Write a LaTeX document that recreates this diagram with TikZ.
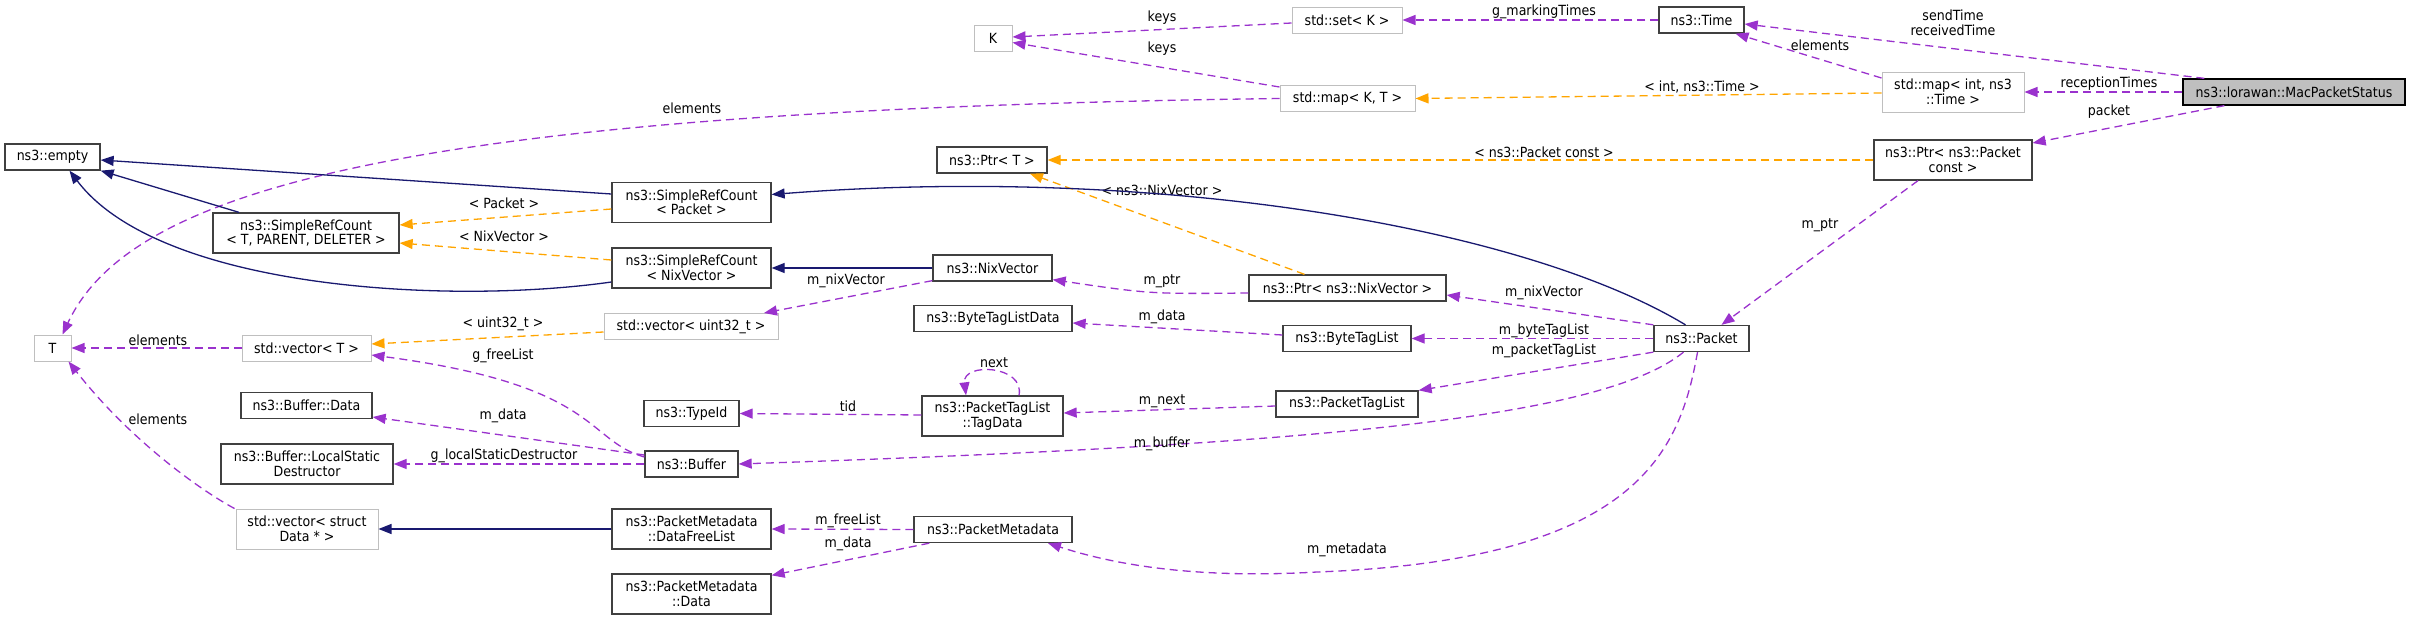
\documentclass[tikz,border=0pt]{standalone}
\usepackage{fontspec}
\setmainfont{DejaVu Sans}[FakeStretch=0.9]
\usetikzlibrary{arrows.meta}
\definecolor{edgepurple}{HTML}{9A32CD}
\definecolor{edgeorange}{HTML}{FFA500}
\definecolor{edgeblue}{HTML}{191970}
\definecolor{boxgrey}{HTML}{BFBFBF}
\definecolor{boxdark}{HTML}{404040}

\begin{document}
\begin{tikzpicture}[x=1pt,y=-1pt,line width=1.3pt,
    every node/.style={font=\fontsize{14}{14.5}\selectfont,inner sep=0pt,align=center},
    class node/.style 2 args={draw=boxdark,fill=white,minimum width=#1,minimum height=#2},
    ext node/.style 2 args={draw=boxgrey,line width=1pt,fill=white,minimum width=#1,minimum height=#2},
    self node/.style 2 args={draw=black,fill=boxgrey,minimum width=#1,minimum height=#2},
    member/.style={color=edgepurple,dash pattern=on 8pt off 5pt,-{Triangle[length=13pt,width=10pt]}},
    tmpl/.style={color=edgeorange,dash pattern=on 8pt off 5pt,-{Triangle[length=13pt,width=10pt]}},
    inherit/.style={color=edgeblue,-{Triangle[length=13pt,width=10pt]}},
    lbl/.style={text=black}]

\useasboundingbox (0,0) rectangle (2420,621);

\node[self node={222pt}{26pt}] (mps) at (2294,92) {ns3::lorawan::MacPacketStatus};
\node[class node={85pt}{26pt}] (time) at (1701.5,20) {ns3::Time};
\node[ext node={142pt}{40pt}] (mapit) at (1953,92) {std::map< int, ns3\\::Time >};
\node[class node={158pt}{40pt}] (ptrp) at (1953,160) {ns3::Ptr< ns3::Packet\\const >};
\node[ext node={110pt}{26pt}] (set) at (1347,20) {std::set< K >};
\node[ext node={135pt}{26pt}] (mapkt) at (1347.5,98.5) {std::map< K, T >};
\node[ext node={38pt}{26pt}] (k) at (993,38.5) {K};
\node[class node={110pt}{26pt}] (ptrt) at (992,160) {ns3::Ptr< T >};
\node[class node={95pt}{26pt}] (packet) at (1701.5,338.5) {ns3::Packet};
\node[class node={197pt}{26pt}] (ptrnix) at (1347.5,288) {ns3::Ptr< ns3::NixVector >};
\node[class node={119pt}{26pt}] (nix) at (992.5,268) {ns3::NixVector};
\node[class node={158pt}{26pt}] (btld) at (993,318.5) {ns3::ByteTagListData};
\node[class node={128pt}{26pt}] (btl) at (1347,338.5) {ns3::ByteTagList};
\node[class node={142pt}{26pt}] (ptl) at (1347,404) {ns3::PacketTagList};
\node[class node={141pt}{40pt}] (tagdata) at (992.5,416) {ns3::PacketTagList\\::TagData};
\node[class node={158pt}{26pt}] (pm) at (993,529.5) {ns3::PacketMetadata};
\node[class node={159pt}{40pt}] (srcp) at (691.5,202.5) {ns3::SimpleRefCount\\< Packet >};
\node[class node={159pt}{40pt}] (srcn) at (691.5,268) {ns3::SimpleRefCount\\< NixVector >};
\node[ext node={174pt}{26pt}] (vecu) at (691,326.5) {std::vector< uint32\_t >};
\node[class node={95pt}{26pt}] (typeid) at (691.5,413.5) {ns3::TypeId};
\node[class node={93pt}{26pt}] (buffer) at (691.5,464) {ns3::Buffer};
\node[class node={159pt}{40pt}] (dfl) at (691.5,529) {ns3::PacketMetadata\\::DataFreeList};
\node[class node={159pt}{40pt}] (pmdata) at (691.5,594) {ns3::PacketMetadata\\::Data};
\node[class node={95pt}{26pt}] (empty) at (52.5,157) {ns3::empty};
\node[class node={186pt}{40pt}] (srct) at (306,233) {ns3::SimpleRefCount\\< T, PARENT, DELETER >};
\node[ext node={129pt}{26pt}] (vect) at (306.5,348) {std::vector< T >};
\node[class node={131pt}{26pt}] (bufdata) at (306.5,405.5) {ns3::Buffer::Data};
\node[class node={172pt}{40pt}] (lsd) at (307,464) {ns3::Buffer::LocalStatic\\Destructor};
\node[ext node={142pt}{40pt}] (vecdata) at (307,529) {std::vector< struct\\Data * >};
\node[ext node={37pt}{26pt}] (t) at (52.5,348) {T};

\draw[member] ([xshift=22pt]mps.north west) -- ([yshift=-4pt]time.east) node[lbl] at (1953,23) {sendTime\\receivedTime};
\draw[member] (mps.west) -- (mapit.east) node[lbl] at (2109,84) {receptionTimes};
\draw[member] ([xshift=42pt]mps.south west) -- ([yshift=17pt]ptrp.east) node[lbl] at (2109,112) {packet};
\draw[member] ([yshift=14pt]mapit.west) -- ([xshift=34pt]time.south) node[lbl] at (1820,45) {elements};
\draw[member] (time.west) -- (set.east) node[lbl] at (1544,12) {g\_markingTimes};
\draw[member] ([yshift=-3pt]set.west) -- ([yshift=1.5pt]k.east) node[lbl] at (1162,18) {keys};
\draw[member] ([yshift=11.5pt]mapkt.west) -- ([yshift=-4pt]k.east) node[lbl] at (1162,49) {keys};
\draw[member] (mapkt.west) .. controls (400,110) and (130,190) .. ([xshift=10pt]t.north) node[lbl] at (692,108) {elements};
\draw[member] ([xshift=-35pt]ptrp.south) -- ([xshift=20pt]packet.north) node[lbl] at (1820,225) {m\_ptr};
\draw[member] (packet.north west) -- ([yshift=-7pt]ptrnix.east) node[lbl] at (1544,293) {m\_nixVector};
\draw[member] ([yshift=-5pt]ptrnix.west) .. controls (1150,294) .. ([yshift=2pt]nix.south east) node[lbl] at (1162,281) {m\_ptr};
\draw[member] ([yshift=1pt]nix.south west) -- ([xshift=73pt]vecu.north) node[lbl] at (846,281) {m\_nixVector};
\draw[member] ([yshift=3.5pt]btl.west) -- ([yshift=-4.5pt]btld.east) node[lbl] at (1162,317) {m\_data};
\draw[member] (packet.west) -- (btl.east) node[lbl] at (1544,331) {m\_byteTagList};
\draw[member] (packet.south west) -- (ptl.north east) node[lbl] at (1544,351) {m\_packetTagList};
\draw[member] ([yshift=-2pt]ptl.west) -- ([yshift=3pt]tagdata.east) node[lbl] at (1162,401) {m\_next};
\draw[member] ([xshift=26.5pt]tagdata.north) .. controls (1025,365) and (962,362) .. ([xshift=-26.5pt]tagdata.north) node[lbl] at (994,363) {next};
\draw[member] ([yshift=1pt]tagdata.west) -- (typeid.east) node[lbl] at (848,406) {tid};
\draw[member] ([xshift=-18pt]packet.south) .. controls (1600,420) and (1300,445) .. (buffer.east) node[lbl] at (1162,444) {m\_buffer};
\draw[member] ([yshift=7pt]buffer.west) .. controls (585,440) and (600,385) .. ([yshift=-7pt]vect.east) node[lbl] at (503,356) {g\_freeList};
\draw[member] ([yshift=9pt]buffer.west) -- ([yshift=-11.5pt]bufdata.east) node[lbl] at (503,416) {m\_data};
\draw[member] (buffer.west) -- (lsd.east) node[lbl] at (504,456) {g\_localStaticDestructor};
\draw[member] (vect.west) -- (t.east) node[lbl] at (158,340) {elements};
\draw[member] ([xshift=-1pt]vecdata.north west) .. controls (200,490) and (130,440) .. ([xshift=16pt]t.south) node[lbl] at (158,419) {elements};
\draw[member] (pm.west) -- (dfl.east) node[lbl] at (848,521) {m\_freeList};
\draw[member] ([xshift=16pt]pm.south west) -- ([yshift=-2pt]pmdata.north east) node[lbl] at (848,544) {m\_data};
\draw[member] ([xshift=-4pt]packet.south) .. controls (1680,450) and (1640,560) .. (1317,572) .. controls (1180,580) and (1100,560) .. ([xshift=55pt]pm.south) node[lbl] at (1347,550) {m\_metadata};

\draw[tmpl] ([yshift=-1pt]mapit.west) -- (mapkt.east) node[lbl] at (1702,87) {< int, ns3::Time >};
\draw[tmpl] (ptrp.west) -- (ptrt.east) node[lbl] at (1544,152) {< ns3::Packet const >};
\draw[tmpl] ([xshift=-43pt]ptrnix.north) -- ([xshift=38pt]ptrt.south) node[lbl] at (1162,190) {< ns3::NixVector >};
\draw[tmpl] ([yshift=-6.5pt]srcp.west) -- ([yshift=8pt]srct.east) node[lbl] at (504,203) {< Packet >};
\draw[tmpl] ([yshift=8pt]srcn.west) -- ([yshift=-10pt]srct.east) node[lbl] at (504,236) {< NixVector >};
\draw[tmpl] ([yshift=-5.5pt]vecu.west) -- ([yshift=4pt]vect.east) node[lbl] at (503,324) {< uint32\_t >};

\draw[inherit] ([yshift=8.5pt]srcp.west) -- ([yshift=-3pt]empty.east);
\draw[inherit] ([xshift=-67pt]srct.north) -- (empty.south east);
\draw[inherit] ([yshift=-14pt]srcn.west) .. controls (450,305) and (160,290) .. ([xshift=17pt]empty.south);
\draw[inherit] ([xshift=-16pt]packet.north) .. controls (1520,225) and (1150,165) .. ([yshift=8pt]srcp.east);
\draw[inherit] (nix.west) -- (srcn.east);
\draw[inherit] (dfl.west) -- (vecdata.east);
\end{tikzpicture}
\end{document}
